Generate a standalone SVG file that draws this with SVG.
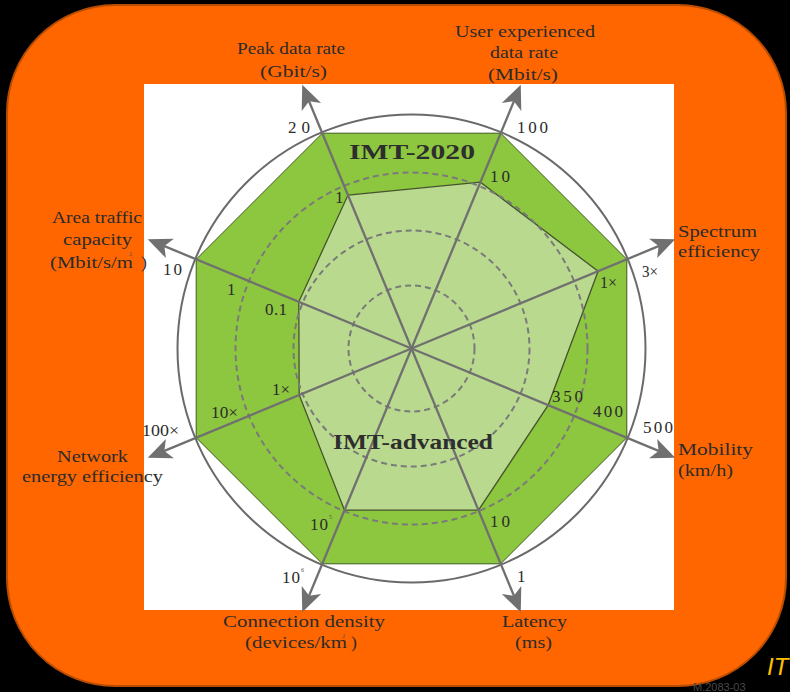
<svg xmlns="http://www.w3.org/2000/svg" width="790" height="692" viewBox="0 0 790 692">
  <style>
    .lbl { font-family: "Liberation Serif", "Times New Roman", serif; font-size: 17.5px; fill: #2b2b2b; }
    .tick { font-family: "Liberation Serif", "Times New Roman", serif; font-size: 17px; fill: #2b2b2b; }
    .sup { font-family: "Liberation Serif", "Times New Roman", serif; font-size: 6px; fill: #555; }
    .title { font-family: "Liberation Serif", "Times New Roman", serif; font-size: 21px; font-weight: bold; fill: #2e2e2e; }
    .axis { stroke: #707070; stroke-width: 2.3; fill: none; }
    .ring { stroke: #7a7a7a; stroke-width: 2; fill: none; stroke-dasharray: 6 4; }
  </style>
  <defs>
    <marker id="arrow" markerUnits="userSpaceOnUse" markerWidth="30" markerHeight="30" viewBox="-10 -10 20 20" refX="0" refY="0" orient="auto" overflow="visible">
      <path d="M9,0 L-7,-7 L-3,0 L-7,7 Z" fill="#707070"/>
    </marker>
  </defs>

  <!-- backdrop -->
  <rect x="0" y="0" width="790" height="692" fill="#000"/>
  <rect x="7" y="5" width="779" height="681" rx="108" ry="108" fill="#FF6600" stroke="#B84C00" stroke-width="2"/>
  <rect x="144" y="84" width="530" height="526" fill="#fff"/>

  <!-- chart body -->
  <g id="chart">
    <circle cx="411.5" cy="348.5" r="234" fill="none" stroke="#6a6a6a" stroke-width="2"/>
    <polygon id="imt-2020" points="322.3,133.2 500.7,133.2 626.8,259.3 626.8,437.7 500.7,563.8 322.3,563.8 196.2,437.7 196.2,259.3" fill="#8DC63F" stroke="#3d5a1e" stroke-width="1"/>
    <polygon id="imt-advanced" points="348,195.1 480.4,182.2 598.1,271.2 548.2,405.1 478.5,510.2 344.5,510.2 299.2,395 298.8,301.8" fill="#B9DA8E" stroke="#44532e" stroke-width="1.3"/>
    <circle class="ring" cx="411.5" cy="348.5" r="63"/>
    <circle class="ring" cx="411.5" cy="348.5" r="118"/>
    <circle class="ring" cx="411.5" cy="348.5" r="176"/>
  </g>

  <!-- axes -->
  <g id="connectors">
    <line class="axis" x1="411.5" y1="348.5" x2="307.4" y2="97.2" marker-end="url(#arrow)"/>
    <line class="axis" x1="411.5" y1="348.5" x2="515.6" y2="97.2" marker-end="url(#arrow)"/>
    <line class="axis" x1="411.5" y1="348.5" x2="662.8" y2="244.4" marker-end="url(#arrow)"/>
    <line class="axis" x1="411.5" y1="348.5" x2="662.8" y2="452.6" marker-end="url(#arrow)"/>
    <line class="axis" x1="411.5" y1="348.5" x2="515.6" y2="599.8" marker-end="url(#arrow)"/>
    <line class="axis" x1="411.5" y1="348.5" x2="307.4" y2="599.8" marker-end="url(#arrow)"/>
    <line class="axis" x1="411.5" y1="348.5" x2="160.2" y2="452.6" marker-end="url(#arrow)"/>
    <line class="axis" x1="411.5" y1="348.5" x2="160.2" y2="244.4" marker-end="url(#arrow)"/>
  </g>

  <!-- series names -->
  <text class="title" x="349" y="159" textLength="126" lengthAdjust="spacingAndGlyphs">IMT-2020</text>
  <text class="title" x="333" y="449" textLength="160" lengthAdjust="spacingAndGlyphs">IMT-advanced</text>

  <!-- axis titles -->
  <g id="peak-data-rate">
    <text class="lbl" x="237" y="54" textLength="108" lengthAdjust="spacingAndGlyphs">Peak data rate</text>
    <text class="lbl" x="260" y="77" textLength="67" lengthAdjust="spacingAndGlyphs">(Gbit/s)</text>
  </g>
  <g id="user-experienced-data-rate">
    <text class="lbl" x="455" y="37" textLength="140" lengthAdjust="spacingAndGlyphs">User experienced</text>
    <text class="lbl" x="490" y="58" textLength="68" lengthAdjust="spacingAndGlyphs">data rate</text>
    <text class="lbl" x="488" y="80" textLength="70" lengthAdjust="spacingAndGlyphs">(Mbit/s)</text>
  </g>
  <g id="spectrum-efficiency">
    <text class="lbl" x="678" y="237" textLength="79" lengthAdjust="spacingAndGlyphs">Spectrum</text>
    <text class="lbl" x="678" y="257" textLength="82" lengthAdjust="spacingAndGlyphs">efficiency</text>
  </g>
  <g id="mobility">
    <text class="lbl" x="678" y="455" textLength="75" lengthAdjust="spacingAndGlyphs">Mobility</text>
    <text class="lbl" x="678" y="476" textLength="55" lengthAdjust="spacingAndGlyphs">(km/h)</text>
  </g>
  <g id="latency">
    <text class="lbl" x="502" y="627" textLength="65" lengthAdjust="spacingAndGlyphs">Latency</text>
    <text class="lbl" x="515" y="648" textLength="37" lengthAdjust="spacingAndGlyphs">(ms)</text>
  </g>
  <g id="connection-density">
    <text class="lbl" x="223" y="627" textLength="162" lengthAdjust="spacingAndGlyphs">Connection density</text>
    <text class="lbl" x="245" y="648" textLength="102" lengthAdjust="spacingAndGlyphs">(devices/km</text>
    <text class="sup" x="342" y="638">2</text>
    <text class="lbl" x="351" y="648">)</text>
  </g>
  <g id="network-energy-efficiency">
    <text class="lbl" x="57" y="462" textLength="71" lengthAdjust="spacingAndGlyphs">Network</text>
    <text class="lbl" x="22" y="482" textLength="141" lengthAdjust="spacingAndGlyphs">energy efficiency</text>
  </g>
  <g id="area-traffic-capacity">
    <text class="lbl" x="52" y="223" textLength="90" lengthAdjust="spacingAndGlyphs">Area traffic</text>
    <text class="lbl" x="63" y="245" textLength="69" lengthAdjust="spacingAndGlyphs">capacity</text>
    <text class="lbl" x="50" y="268" textLength="83" lengthAdjust="spacingAndGlyphs">(Mbit/s/m</text>
    <text class="sup" x="129" y="256">2</text>
    <text class="lbl" x="141" y="268">)</text>
  </g>

  <!-- scale values -->
  <g id="ticks">
    <text class="tick" x="288" y="133" textLength="22" lengthAdjust="spacing">20</text>
    <text class="tick" x="335" y="203">1</text>
    <text class="tick" x="517" y="133" textLength="31" lengthAdjust="spacing">100</text>
    <text class="tick" x="490" y="182" textLength="20" lengthAdjust="spacing">10</text>
    <text class="tick" x="642" y="277" textLength="16" lengthAdjust="spacingAndGlyphs">3×</text>
    <text class="tick" x="600" y="288" textLength="17" lengthAdjust="spacingAndGlyphs">1×</text>
    <text class="tick" x="552" y="402" textLength="31" lengthAdjust="spacing">350</text>
    <text class="tick" x="593" y="417" textLength="30" lengthAdjust="spacing">400</text>
    <text class="tick" x="643" y="433" textLength="30" lengthAdjust="spacing">500</text>
    <text class="tick" x="490" y="527" textLength="20" lengthAdjust="spacing">10</text>
    <text class="tick" x="517" y="582">1</text>
    <text class="tick" x="310" y="530" textLength="18" lengthAdjust="spacing">10</text>
    <text class="sup" x="329" y="519">5</text>
    <text class="tick" x="282" y="583" textLength="18" lengthAdjust="spacing">10</text>
    <text class="sup" x="301" y="572">6</text>
    <text class="tick" x="272" y="395" textLength="18" lengthAdjust="spacingAndGlyphs">1×</text>
    <text class="tick" x="211" y="418" textLength="27" lengthAdjust="spacingAndGlyphs">10×</text>
    <text class="tick" x="142" y="436" textLength="37" lengthAdjust="spacingAndGlyphs">100×</text>
    <text class="tick" x="163" y="275" textLength="19" lengthAdjust="spacing">10</text>
    <text class="tick" x="227" y="295">1</text>
    <text class="tick" x="265" y="315" textLength="22" lengthAdjust="spacing">0.1</text>
  </g>

  <!-- corner marks -->
  <text x="767" y="675" font-family="Liberation Sans, Arial, sans-serif" font-size="24" font-style="italic" fill="#FFC000">IT</text>
  <text x="693" y="691" font-family="Liberation Sans, Arial, sans-serif" font-size="11" fill="#4a4a4a">M.2083-03</text>
</svg>
